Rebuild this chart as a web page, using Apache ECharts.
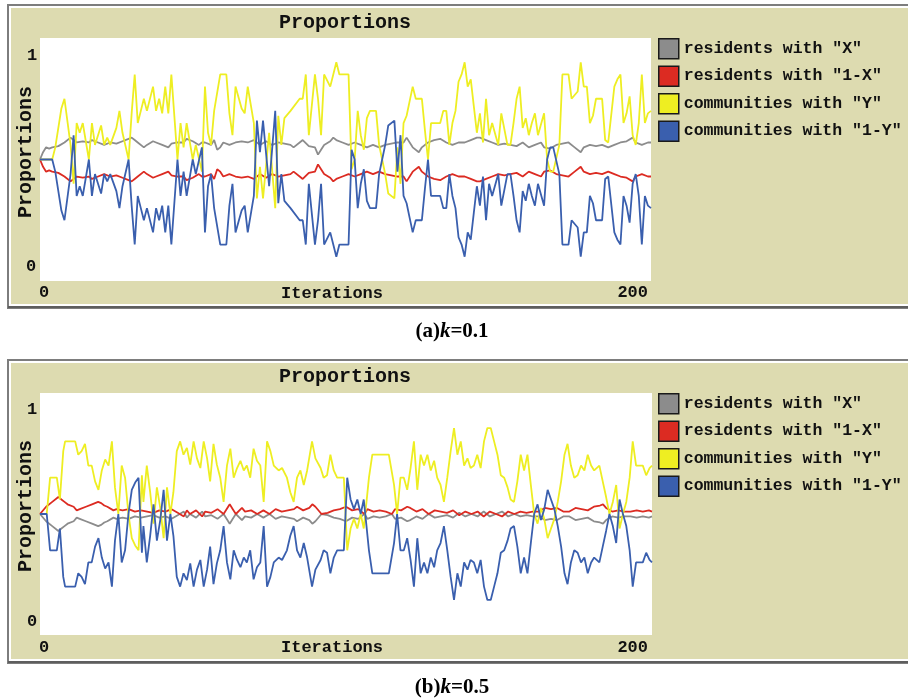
<!DOCTYPE html>
<html>
<head>
<meta charset="utf-8">
<style>html,body{margin:0;padding:0;background:#fff;}#chart{width:908px;height:700px;}</style>
<script src="https://cdn.jsdelivr.net/npm/echarts@6/dist/echarts.min.js"></script>
</head>
<body>
<div id="chart"></div>
<script>
// ---------- data (iteration, proportion) ----------
const seriesNames = ['residents with "X"', 'residents with "1-X"', 'communities with "Y"', 'communities with "1-Y"'];
const xTickLabels = ['0', '200'];
const yTickLabels = ['0', '1'];
const captions = ['(a)', 'k', '=0.1', '(b)', 'k', '=0.5'];

// panel (a) k=0.1
const grayA = [[0,0.5],[1,0.53],[2,0.55],[3,0.545],[4,0.55],[6,0.555],[8,0.57],[10,0.59],[11,0.58],[12,0.57],[14,0.575],[16,0.57],[17,0.58],[19,0.57],[21,0.56],[23,0.57],[25,0.565],[27,0.575],[29,0.585],[30,0.59],[31,0.58],[32,0.57],[34,0.55],[35,0.56],[37,0.575],[38,0.57],[40,0.56],[42,0.55],[43,0.565],[45,0.57],[47,0.57],[48,0.585],[50,0.575],[52,0.56],[53,0.57],[54,0.57],[56,0.56],[57,0.58],[58,0.54],[59,0.55],[60,0.57],[62,0.56],[64,0.57],[66,0.575],[68,0.57],[70,0.58],[72,0.56],[74,0.575],[76,0.56],[78,0.57],[80,0.565],[82,0.56],[83,0.55],[85,0.57],[86,0.58],[88,0.555],[90,0.55],[91,0.52],[92,0.54],[93,0.56],[95,0.575],[96,0.59],[97,0.58],[99,0.57],[101,0.56],[103,0.57],[105,0.56],[107,0.55],[109,0.56],[111,0.55],[113,0.56],[115,0.565],[117,0.57],[119,0.57],[120,0.59],[122,0.55],[124,0.53],[125,0.55],[127,0.57],[129,0.58],[131,0.585],[133,0.57],[135,0.56],[137,0.57],[139,0.57],[141,0.58],[143,0.59],[144,0.59],[146,0.58],[148,0.57],[150,0.56],[152,0.565],[154,0.56],[156,0.555],[158,0.57],[160,0.55],[162,0.56],[164,0.57],[165,0.55],[167,0.545],[169,0.56],[171,0.565],[173,0.57],[175,0.55],[177,0.53],[178,0.55],[180,0.56],[182,0.555],[184,0.56],[186,0.55],[188,0.56],[190,0.57],[192,0.575],[194,0.59],[195,0.57],[197,0.56],[199,0.57],[200,0.57]];
const redA = [[0,0.5],[1,0.47],[2,0.45],[3,0.455],[4,0.45],[6,0.445],[8,0.43],[10,0.41],[11,0.42],[12,0.43],[14,0.425],[16,0.43],[17,0.42],[19,0.43],[21,0.44],[23,0.43],[25,0.435],[27,0.425],[29,0.415],[30,0.41],[31,0.42],[32,0.43],[34,0.45],[35,0.44],[37,0.425],[38,0.43],[40,0.44],[42,0.45],[43,0.435],[45,0.43],[47,0.43],[48,0.415],[50,0.425],[52,0.44],[53,0.43],[54,0.43],[56,0.44],[57,0.42],[58,0.46],[59,0.45],[60,0.43],[62,0.44],[64,0.43],[66,0.425],[68,0.43],[70,0.42],[72,0.44],[74,0.425],[76,0.44],[78,0.43],[80,0.435],[82,0.44],[83,0.45],[85,0.43],[86,0.42],[88,0.445],[90,0.45],[91,0.48],[92,0.46],[93,0.44],[95,0.425],[96,0.41],[97,0.42],[99,0.43],[101,0.44],[103,0.43],[105,0.44],[107,0.45],[109,0.44],[111,0.45],[113,0.44],[115,0.435],[117,0.43],[119,0.43],[120,0.41],[122,0.45],[124,0.47],[125,0.45],[127,0.43],[129,0.42],[131,0.415],[133,0.43],[135,0.44],[137,0.43],[139,0.43],[141,0.42],[143,0.41],[144,0.41],[146,0.42],[148,0.43],[150,0.44],[152,0.435],[154,0.44],[156,0.445],[158,0.43],[160,0.45],[162,0.44],[164,0.43],[165,0.45],[167,0.455],[169,0.44],[171,0.435],[173,0.43],[175,0.45],[177,0.47],[178,0.45],[180,0.44],[182,0.445],[184,0.44],[186,0.45],[188,0.44],[190,0.43],[192,0.425],[194,0.41],[195,0.43],[197,0.44],[199,0.43],[200,0.43]];
const yellowA = [[0,0.5],[4,0.5],[5,0.55],[7,0.71],[8,0.75],[10,0.56],[11,0.4],[12,0.65],[13,0.61],[14,0.65],[16,0.5],[17,0.65],[18,0.56],[20,0.64],[21,0.56],[22,0.59],[23,0.56],[25,0.63],[26,0.7],[27,0.61],[29,0.5],[30,0.69],[31,0.85],[32,0.65],[33,0.7],[34,0.75],[35,0.7],[37,0.8],[38,0.7],[39,0.75],[40,0.69],[41,0.8],[42,0.69],[43,0.85],[45,0.5],[46,0.65],[47,0.55],[48,0.65],[50,0.5],[51,0.56],[53,0.45],[54,0.8],[55,0.61],[56,0.56],[57,0.7],[59,0.85],[61,0.85],[62,0.69],[63,0.6],[64,0.8],[66,0.71],[67,0.69],[68,0.8],[70,0.65],[71,0.34],[72,0.47],[73,0.34],[75,0.61],[77,0.3],[78,0.68],[79,0.56],[80,0.67],[82,0.7],[85,0.75],[86,0.75],[87,0.85],[88,0.6],[90,0.85],[91,0.75],[92,0.6],[93,0.85],[95,0.8],[96,0.85],[97,0.9],[98,0.85],[101,0.85],[102,0.46],[103,0.5],[104,0.7],[105,0.6],[106,0.54],[107,0.67],[108,0.7],[110,0.7],[111,0.56],[112,0.5],[113,0.44],[114,0.36],[116,0.34],[117,0.55],[118,0.4],[119,0.65],[120,0.68],[121,0.74],[122,0.8],[123,0.75],[125,0.75],[126,0.62],[127,0.5],[128,0.65],[131,0.65],[132,0.7],[133,0.7],[134,0.56],[135,0.65],[136,0.7],[137,0.82],[138,0.85],[139,0.9],[140,0.8],[141,0.83],[142,0.72],[143,0.61],[144,0.69],[145,0.57],[146,0.75],[147,0.6],[148,0.65],[150,0.56],[151,0.69],[153,0.56],[154,0.56],[155,0.65],[156,0.75],[157,0.8],[158,0.63],[159,0.67],[160,0.6],[161,0.65],[162,0.69],[163,0.6],[165,0.69],[166,0.5],[167,0.45],[168,0.45],[170,0.56],[171,0.85],[173,0.85],[174,0.75],[176,0.78],[177,0.9],[178,0.8],[179,0.8],[180,0.65],[181,0.68],[182,0.75],[184,0.75],[185,0.58],[186,0.57],[188,0.8],[189,0.83],[190,0.85],[191,0.65],[192,0.69],[193,0.76],[194,0.6],[195,0.56],[196,0.65],[197,0.85],[198,0.65],[199,0.69],[200,0.7]];
const blueA = [[0,0.5],[4,0.5],[5,0.45],[7,0.29],[8,0.25],[10,0.44],[11,0.6],[12,0.35],[13,0.39],[14,0.35],[16,0.5],[17,0.35],[18,0.44],[20,0.36],[21,0.44],[22,0.41],[23,0.44],[25,0.37],[26,0.3],[27,0.39],[29,0.5],[30,0.31],[31,0.15],[32,0.35],[33,0.3],[34,0.25],[35,0.3],[37,0.2],[38,0.3],[39,0.25],[40,0.31],[41,0.2],[42,0.31],[43,0.15],[45,0.5],[46,0.35],[47,0.45],[48,0.35],[50,0.5],[51,0.44],[53,0.55],[54,0.2],[55,0.39],[56,0.44],[57,0.3],[59,0.15],[61,0.15],[62,0.31],[63,0.4],[64,0.2],[66,0.29],[67,0.31],[68,0.2],[70,0.35],[71,0.66],[72,0.53],[73,0.66],[75,0.39],[77,0.7],[78,0.32],[79,0.44],[80,0.33],[82,0.3],[85,0.25],[86,0.25],[87,0.15],[88,0.4],[90,0.15],[91,0.25],[92,0.4],[93,0.15],[95,0.2],[96,0.15],[97,0.1],[98,0.15],[101,0.15],[102,0.54],[103,0.5],[104,0.3],[105,0.4],[106,0.46],[107,0.33],[108,0.3],[110,0.3],[111,0.44],[112,0.5],[113,0.56],[114,0.64],[116,0.66],[117,0.45],[118,0.6],[119,0.35],[120,0.32],[121,0.26],[122,0.2],[123,0.25],[125,0.25],[126,0.38],[127,0.5],[128,0.35],[131,0.35],[132,0.3],[133,0.3],[134,0.44],[135,0.35],[136,0.3],[137,0.18],[138,0.15],[139,0.1],[140,0.2],[141,0.17],[142,0.28],[143,0.39],[144,0.31],[145,0.43],[146,0.25],[147,0.4],[148,0.35],[150,0.44],[151,0.31],[153,0.44],[154,0.44],[155,0.35],[156,0.25],[157,0.2],[158,0.37],[159,0.33],[160,0.4],[161,0.35],[162,0.31],[163,0.4],[165,0.31],[166,0.5],[167,0.55],[168,0.55],[170,0.44],[171,0.15],[173,0.15],[174,0.25],[176,0.22],[177,0.1],[178,0.2],[179,0.2],[180,0.35],[181,0.32],[182,0.25],[184,0.25],[185,0.42],[186,0.43],[188,0.2],[189,0.17],[190,0.15],[191,0.35],[192,0.31],[193,0.24],[194,0.4],[195,0.44],[196,0.35],[197,0.15],[198,0.35],[199,0.31],[200,0.3]];

// panel (b) k=0.5
const grayB = [[0,0.5],[2,0.47],[4,0.45],[6,0.43],[7,0.44],[8,0.45],[9,0.46],[11,0.47],[12,0.485],[13,0.48],[15,0.47],[17,0.46],[19,0.45],[20,0.455],[21,0.465],[22,0.47],[24,0.485],[25,0.48],[27,0.485],[29,0.48],[31,0.49],[33,0.485],[35,0.49],[37,0.495],[39,0.485],[41,0.49],[43,0.48],[45,0.495],[47,0.51],[48,0.485],[49,0.5],[51,0.485],[53,0.51],[54,0.49],[56,0.495],[58,0.48],[60,0.5],[62,0.46],[63,0.48],[64,0.5],[66,0.475],[67,0.49],[69,0.485],[71,0.5],[73,0.485],[75,0.5],[77,0.48],[79,0.49],[81,0.485],[83,0.48],[84,0.47],[86,0.485],[88,0.475],[89,0.46],[90,0.47],[92,0.5],[94,0.495],[96,0.485],[98,0.48],[100,0.47],[102,0.485],[104,0.48],[106,0.5],[107,0.48],[109,0.49],[111,0.485],[113,0.49],[115,0.5],[116,0.48],[118,0.485],[120,0.47],[121,0.475],[123,0.49],[125,0.48],[127,0.5],[129,0.485],[131,0.49],[133,0.495],[135,0.485],[137,0.505],[139,0.49],[141,0.5],[143,0.49],[145,0.51],[147,0.49],[149,0.5],[151,0.51],[153,0.49],[155,0.5],[157,0.49],[159,0.495],[161,0.49],[163,0.49],[165,0.475],[167,0.48],[169,0.475],[171,0.49],[173,0.49],[175,0.475],[177,0.48],[179,0.485],[181,0.47],[183,0.465],[184,0.46],[185,0.475],[187,0.49],[189,0.485],[191,0.49],[193,0.49],[195,0.485],[197,0.49],[199,0.485],[200,0.49]];
const redB = [[0,0.5],[2,0.53],[4,0.55],[6,0.57],[7,0.56],[8,0.55],[9,0.54],[11,0.53],[12,0.515],[13,0.52],[15,0.53],[17,0.54],[19,0.55],[20,0.545],[21,0.535],[22,0.53],[24,0.515],[25,0.52],[27,0.515],[29,0.52],[31,0.51],[33,0.515],[35,0.51],[37,0.505],[39,0.515],[41,0.51],[43,0.52],[45,0.505],[47,0.49],[48,0.515],[49,0.5],[51,0.515],[53,0.49],[54,0.51],[56,0.505],[58,0.52],[60,0.5],[62,0.54],[63,0.52],[64,0.5],[66,0.525],[67,0.51],[69,0.515],[71,0.5],[73,0.515],[75,0.5],[77,0.52],[79,0.51],[81,0.515],[83,0.52],[84,0.53],[86,0.515],[88,0.525],[89,0.54],[90,0.53],[92,0.5],[94,0.505],[96,0.515],[98,0.52],[100,0.53],[102,0.515],[104,0.52],[106,0.5],[107,0.52],[109,0.51],[111,0.515],[113,0.51],[115,0.5],[116,0.52],[118,0.515],[120,0.53],[121,0.525],[123,0.51],[125,0.52],[127,0.5],[129,0.515],[131,0.51],[133,0.505],[135,0.515],[137,0.495],[139,0.51],[141,0.5],[143,0.51],[145,0.49],[147,0.51],[149,0.5],[151,0.49],[153,0.51],[155,0.5],[157,0.51],[159,0.505],[161,0.51],[163,0.51],[165,0.525],[167,0.52],[169,0.525],[171,0.51],[173,0.51],[175,0.525],[177,0.52],[179,0.515],[181,0.53],[183,0.535],[184,0.54],[185,0.525],[187,0.51],[189,0.515],[191,0.51],[193,0.51],[195,0.515],[197,0.51],[199,0.515],[200,0.51]];
const yellowB = [[0,0.5],[2.2,0.5],[3.3,0.65],[5.5,0.65],[6.5,0.56],[7.6,0.76],[8.2,0.8],[11.5,0.8],[12.5,0.745],[13.6,0.76],[14.7,0.79],[15.8,0.7],[16.9,0.7],[18,0.635],[19.1,0.6],[20.2,0.68],[21.3,0.725],[22.4,0.7],[23.5,0.8],[24.5,0.61],[25.6,0.5],[26.7,0.7],[27.8,0.65],[28.9,0.5],[30,0.4],[31.1,0.37],[32.2,0.35],[33.3,0.66],[33.8,0.55],[34.9,0.7],[36,0.59],[37.1,0.46],[38.2,0.61],[39.3,0.525],[40.4,0.4],[41.5,0.61],[42.6,0.5],[43.6,0.59],[44.7,0.76],[45.8,0.8],[46.9,0.745],[48,0.773],[49.1,0.704],[50.2,0.8],[51.3,0.73],[52.4,0.69],[53.5,0.8],[54.6,0.73],[55.6,0.635],[56.7,0.79],[57.8,0.704],[58.9,0.65],[60,0.55],[61.1,0.7],[62.2,0.77],[63.3,0.65],[64.4,0.69],[65.5,0.72],[66.6,0.68],[67.6,0.7],[68.7,0.65],[69.8,0.77],[70.9,0.72],[72,0.7],[73.1,0.55],[74.2,0.8],[75.3,0.76],[76.4,0.7],[78,0.68],[79.1,0.69],[80.7,0.65],[81.8,0.59],[82.9,0.55],[84,0.65],[85.1,0.68],[86.2,0.62],[87.3,0.68],[88.9,0.8],[90,0.73],[91.7,0.69],[92.7,0.65],[93.8,0.66],[94.9,0.745],[96,0.68],[97.1,0.65],[99.3,0.65],[100.4,0.35],[101.5,0.44],[102.6,0.48],[103.7,0.44],[104.8,0.5],[105.8,0.44],[106.7,0.55],[107.5,0.65],[108.6,0.745],[114,0.745],[115.7,0.62],[116.7,0.5],[117.8,0.65],[118.9,0.65],[120,0.6],[121.1,0.69],[122.2,0.8],[123.3,0.6],[124.4,0.745],[125.5,0.7],[126.6,0.745],[127.7,0.68],[128.8,0.72],[129.8,0.65],[130.9,0.62],[132,0.55],[133.1,0.65],[134.2,0.76],[135.3,0.855],[136.4,0.745],[137.5,0.8],[138.6,0.7],[139.7,0.73],[140.7,0.69],[141.8,0.7],[142.9,0.745],[144,0.69],[145.1,0.8],[146.2,0.855],[147.3,0.855],[148.4,0.8],[149.5,0.745],[150.6,0.66],[151.7,0.65],[152.8,0.61],[153.8,0.56],[154.9,0.55],[156,0.635],[157.1,0.745],[158.2,0.68],[159.3,0.745],[160.4,0.62],[161.5,0.5],[162.6,0.46],[163.7,0.525],[164.8,0.48],[165.9,0.4],[167,0.44],[168.1,0.48],[169.2,0.55],[170.3,0.635],[171.4,0.745],[172.4,0.79],[173.5,0.7],[174.6,0.65],[175.7,0.66],[176.8,0.7],[177.9,0.68],[179,0.745],[180.1,0.7],[181.1,0.68],[182.8,0.7],[183.9,0.635],[185,0.57],[186.1,0.5],[187.2,0.55],[188.3,0.62],[189.4,0.44],[190.5,0.5],[191.6,0.55],[192.7,0.65],[193.7,0.8],[194.8,0.7],[197,0.7],[198.1,0.66],[199.2,0.69],[200,0.7]];
const blueB = [[0,0.5],[2.2,0.5],[3.3,0.35],[5.5,0.35],[6.5,0.44],[7.6,0.24],[8.2,0.2],[11.5,0.2],[12.5,0.255],[13.6,0.24],[14.7,0.21],[15.8,0.3],[16.9,0.3],[18,0.365],[19.1,0.4],[20.2,0.32],[21.3,0.275],[22.4,0.3],[23.5,0.2],[24.5,0.39],[25.6,0.5],[26.7,0.3],[27.8,0.35],[28.9,0.5],[30,0.6],[31.1,0.63],[32.2,0.65],[33.3,0.34],[33.8,0.45],[34.9,0.3],[36,0.41],[37.1,0.54],[38.2,0.39],[39.3,0.475],[40.4,0.6],[41.5,0.39],[42.6,0.5],[43.6,0.41],[44.7,0.24],[45.8,0.2],[46.9,0.255],[48,0.227],[49.1,0.296],[50.2,0.2],[51.3,0.27],[52.4,0.31],[53.5,0.2],[54.6,0.27],[55.6,0.365],[56.7,0.21],[57.8,0.296],[58.9,0.35],[60,0.45],[61.1,0.3],[62.2,0.23],[63.3,0.35],[64.4,0.31],[65.5,0.28],[66.6,0.32],[67.6,0.3],[68.7,0.35],[69.8,0.23],[70.9,0.28],[72,0.3],[73.1,0.45],[74.2,0.2],[75.3,0.24],[76.4,0.3],[78,0.32],[79.1,0.31],[80.7,0.35],[81.8,0.41],[82.9,0.45],[84,0.35],[85.1,0.32],[86.2,0.38],[87.3,0.32],[88.9,0.2],[90,0.27],[91.7,0.31],[92.7,0.35],[93.8,0.34],[94.9,0.255],[96,0.32],[97.1,0.35],[99.3,0.35],[100.4,0.65],[101.5,0.56],[102.6,0.52],[103.7,0.56],[104.8,0.5],[105.8,0.56],[106.7,0.45],[107.5,0.35],[108.6,0.255],[114,0.255],[115.7,0.38],[116.7,0.5],[117.8,0.35],[118.9,0.35],[120,0.4],[121.1,0.31],[122.2,0.2],[123.3,0.4],[124.4,0.255],[125.5,0.3],[126.6,0.255],[127.7,0.32],[128.8,0.28],[129.8,0.35],[130.9,0.38],[132,0.45],[133.1,0.35],[134.2,0.24],[135.3,0.145],[136.4,0.255],[137.5,0.2],[138.6,0.3],[139.7,0.27],[140.7,0.31],[141.8,0.3],[142.9,0.255],[144,0.31],[145.1,0.2],[146.2,0.145],[147.3,0.145],[148.4,0.2],[149.5,0.255],[150.6,0.34],[151.7,0.35],[152.8,0.39],[153.8,0.44],[154.9,0.45],[156,0.365],[157.1,0.255],[158.2,0.32],[159.3,0.255],[160.4,0.38],[161.5,0.5],[162.6,0.54],[163.7,0.475],[164.8,0.52],[165.9,0.6],[167,0.56],[168.1,0.52],[169.2,0.45],[170.3,0.365],[171.4,0.255],[172.4,0.21],[173.5,0.3],[174.6,0.35],[175.7,0.34],[176.8,0.3],[177.9,0.32],[179,0.255],[180.1,0.3],[181.1,0.32],[182.8,0.3],[183.9,0.365],[185,0.43],[186.1,0.5],[187.2,0.45],[188.3,0.38],[189.4,0.56],[190.5,0.5],[191.6,0.45],[192.7,0.35],[193.7,0.2],[194.8,0.3],[197,0.3],[198.1,0.34],[199.2,0.31],[200,0.3]];

// ---------- styling ----------
const colors = ['#8c8c8c', '#dc2b22', '#eeee22', '#3a5fae'];
const MONO = '"Liberation Mono", "DejaVu Sans Mono", monospace';
const SERIF = '"Liberation Serif", "DejaVu Serif", serif';
const BEIGE = '#dddbb0';

const chart = echarts.init(document.getElementById('chart'), null, { renderer: 'canvas' });

function mkLine(name, data, idx, color) {
  return {
    type: 'line', name: name, data: data, xAxisIndex: idx, yAxisIndex: idx,
    symbol: 'none', animation: false, silent: true,
    lineStyle: { color: color, width: 1.8 }, itemStyle: { color: color }
  };
}
function mkAxisX(idx) {
  return { type: 'value', gridIndex: idx, min: 0, max: 200, show: false };
}
function mkAxisY(idx) {
  return { type: 'value', gridIndex: idx, min: 0, max: 1, show: false };
}
function mkLegend(top) {
  return {
    orient: 'vertical', left: 658, top: top, padding: 0, itemGap: 6,
    itemWidth: 20, itemHeight: 20, icon: 'rect', selectedMode: false,
    data: seriesNames,
    itemStyle: { borderColor: '#1a1a1a', borderWidth: 1.5 },
    textStyle: { fontFamily: MONO, fontSize: 16.5, fontWeight: 'bold', color: '#111' }
  };
}
function txt(text, x, y, font, align, rot) {
  return {
    type: 'text', x: x, y: y, rotation: rot || 0, z: 20,
    style: { text: text, font: font, fill: '#111', align: align || 'center', verticalAlign: 'middle',
             textAlign: align || 'center', textVerticalAlign: 'middle' }
  };
}
function panelFrame(top) {
  return [
    { type: 'rect', z: -10, shape: { x: 8, y: top, width: 910, height: 303 },
      style: { fill: '#ffffff', stroke: '#7d7d7d', lineWidth: 2 } },
    { type: 'rect', z: -9, shape: { x: 11, y: top + 3, width: 905, height: 296 },
      style: { fill: BEIGE } },
    { type: 'line', z: -8, shape: { x1: 8, y1: top + 302, x2: 908, y2: top + 302 },
      style: { stroke: '#5e5e5e', lineWidth: 2 } }
  ];
}
function caption(parts, y) {
  return {
    type: 'text', x: 452, y: y, z: 20,
    style: {
      text: '{n|' + parts[0] + '}{i|' + parts[1] + '}{n|' + parts[2] + '}',
      align: 'center', verticalAlign: 'middle', textAlign: 'center', textVerticalAlign: 'middle',
      rich: {
        n: { font: 'bold 21px ' + SERIF, fill: '#000' },
        i: { font: 'italic bold 21px ' + SERIF, fill: '#000' }
      }
    }
  };
}

const graphics = [].concat(
  panelFrame(5),
  panelFrame(360),
  [
    // panel (a) texts
    txt('Proportions', 345, 23, 'bold 20px ' + MONO),
    txt('Iterations', 332, 294, 'bold 17px ' + MONO),
    txt('Proportions', 26, 152, 'bold 20px ' + MONO, 'center', Math.PI / 2),
    txt(yTickLabels[1], 32, 56, 'bold 17px ' + MONO),
    txt(yTickLabels[0], 31, 267, 'bold 17px ' + MONO),
    txt(xTickLabels[0], 39, 293, 'bold 17px ' + MONO, 'left'),
    txt(xTickLabels[1], 648, 293, 'bold 17px ' + MONO, 'right'),
    // panel (b) texts
    txt('Proportions', 345, 377, 'bold 20px ' + MONO),
    txt('Iterations', 332, 648, 'bold 17px ' + MONO),
    txt('Proportions', 26, 506, 'bold 20px ' + MONO, 'center', Math.PI / 2),
    txt(yTickLabels[1], 32, 410, 'bold 17px ' + MONO),
    txt(yTickLabels[0], 32, 622, 'bold 17px ' + MONO),
    txt(xTickLabels[0], 39, 648, 'bold 17px ' + MONO, 'left'),
    txt(xTickLabels[1], 648, 648, 'bold 17px ' + MONO, 'right'),
    caption(captions.slice(0, 3), 332),
    caption(captions.slice(3, 6), 688)
  ]
);

const option = {
  animation: false,
  backgroundColor: '#ffffff',
  graphic: { elements: graphics },
  grid: [
    { left: 40, top: 38, width: 611, height: 243, show: true, backgroundColor: '#ffffff', borderWidth: 0, z: 1 },
    { left: 40, top: 393, width: 612, height: 242, show: true, backgroundColor: '#ffffff', borderWidth: 0, z: 1 }
  ],
  xAxis: [mkAxisX(0), mkAxisX(1)],
  yAxis: [mkAxisY(0), mkAxisY(1)],
  legend: [mkLegend(38), mkLegend(393)],
  tooltip: { show: false },
  series: [
    mkLine(seriesNames[0], grayA, 0, colors[0]),
    mkLine(seriesNames[1], redA, 0, colors[1]),
    mkLine(seriesNames[2], yellowA, 0, colors[2]),
    mkLine(seriesNames[3], blueA, 0, colors[3]),
    mkLine(seriesNames[0], grayB, 1, colors[0]),
    mkLine(seriesNames[1], redB, 1, colors[1]),
    mkLine(seriesNames[2], yellowB, 1, colors[2]),
    mkLine(seriesNames[3], blueB, 1, colors[3])
  ]
};
chart.setOption(option);
</script>
</body>
</html>
